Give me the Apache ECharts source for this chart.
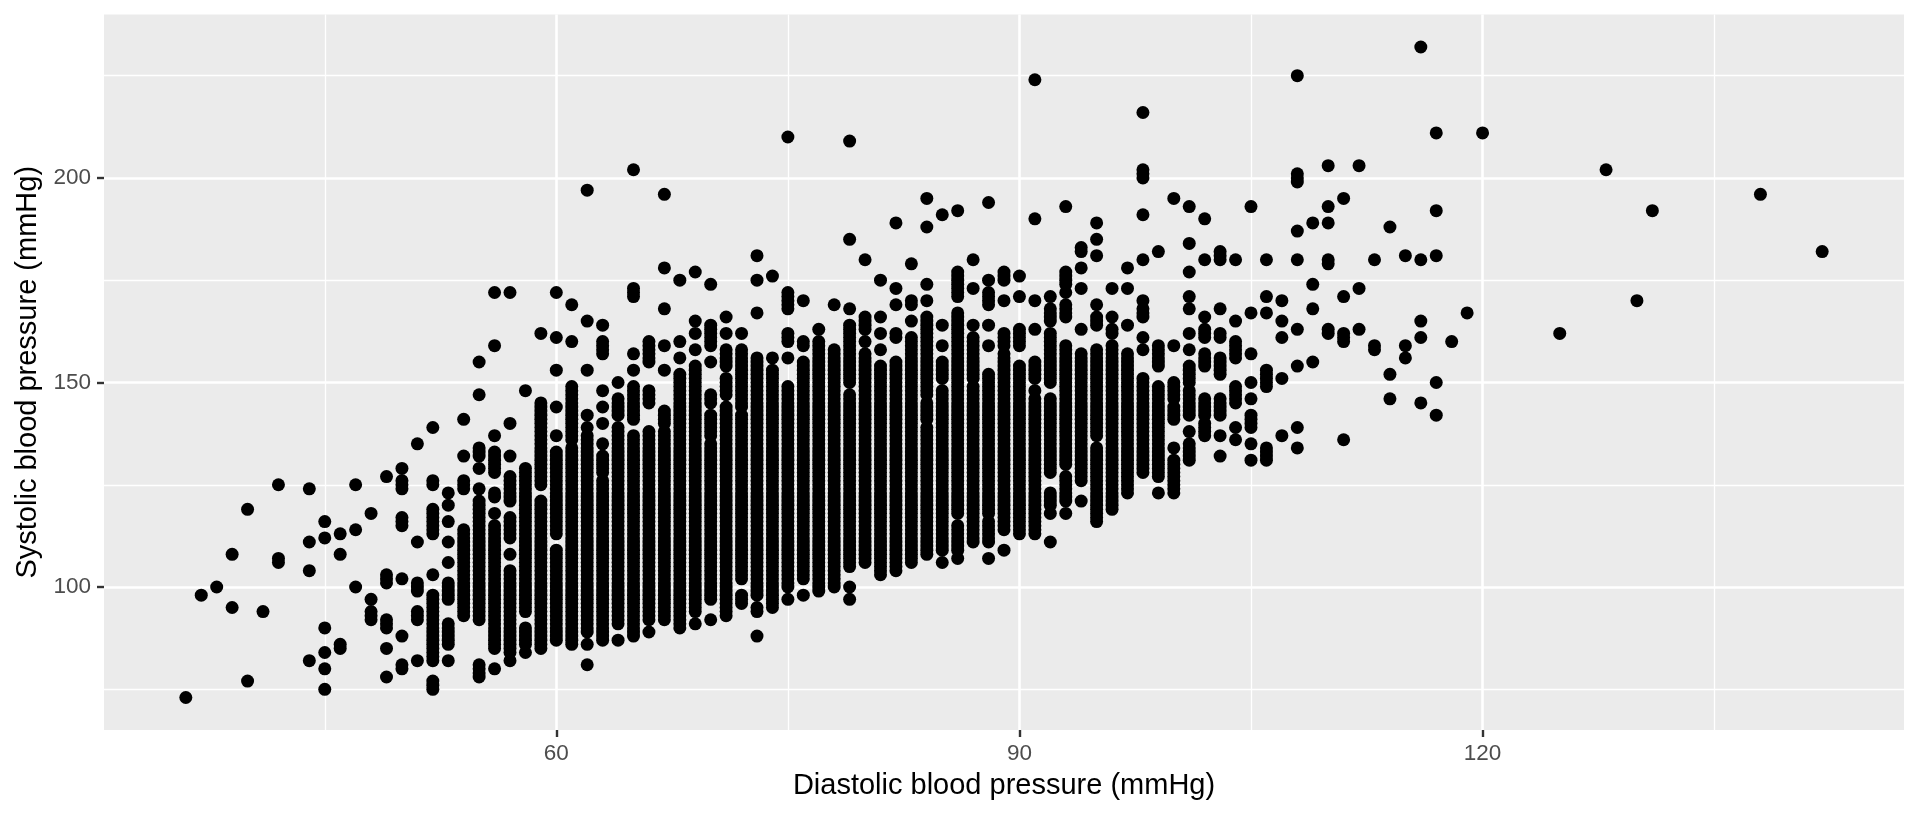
<!DOCTYPE html>
<html>
<head>
<meta charset="utf-8">
<script src="https://cdn.jsdelivr.net/npm/echarts@6/dist/echarts.min.js"></script>
<style>
html,body{margin:0;padding:0;background:#ffffff;}
#chart{width:1920px;height:816px;}
</style>
</head>
<body>
<div id="chart"></div>
<script>
// Diastolic values (x) and, for each, the systolic values (y).
// A number is a single point; [lo, hi] is a solid run of points at every mmHg from lo to hi.
const diastolic = [
  36,37,38,39,40,41,42,44,45,46,47,48,49,50,51,52,53,54,55,56,57,58,59,
  60,61,62,63,64,65,66,67,68,69,70,71,72,73,74,75,76,77,78,79,
  80,81,82,83,84,85,86,87,88,89,90,91,92,93,94,95,96,97,98,99,
  100,101,102,103,104,105,106,107,108,109,110,111,112,113,114,115,116,117,118,119,120,
  125,128,130,131,138,142
];
const systolicRuns = [
  [73],
  [98],
  [100],
  [108, 95],
  [119, 77],
  [94],
  [125, [106,107]],
  [124, 111, 104, 82],
  [116, 112, 90, 84, 80, 75],
  [113, 108, [85,86]],
  [125, 114, 100],
  [118, 97, [92,94]],
  [127, [101,103], [90,92], 85, 78],
  [129, [124,126], [115,117], 102, 88, [80,81]],
  [135, 111, [99,101], [92,94], 82],
  [139, [125,126], [113,119], 103, [82,98], [75,77]],
  [123, 120, 116, 111, 106, [97,101], [86,91], 82],
  [141, 132, [124,126], [93,114]],
  [155, 147, [132,134], 129, 124, [92,121], [78,81]],
  [172, 159, 137, [128,133], [122,123], 118, [85,115], 80],
  [172, 140, 132, [121,127], [112,117], 108, [84,104], 82],
  [148, [94,129], [86,90], 84],
  [162, [125,145], [85,121]],
  // 60
  [172, 161, 153, 144, 137, [113,133], [87,109]],
  [169, 160, [136,149], [130,134], [94,129], [86,93]],
  [197, 165, 153, 142, 139, [128,137], [89,127], 86, 81],
  [164, [157,160], 148, 144, 140, 135, [128,132], [87,126]],
  [150, [142,146], [131,139], [91,130], 87],
  [202, [171,173], 157, 153, [141,149], [88,137]],
  [[155,160], [145,148], [92,138], 89],
  [196, 178, 168, 159, 153, [140,143], [92,138]],
  [175, 160, 156, [90,152]],
  [177, 165, 162, 158, [94,154], 91],
  // 70
  [174, [159,164], 155, [145,147], [137,142], [97,135], 92],
  [166, 162, [154,158], [147,151], [93,144]],
  [162, [144,158], [102,142], [96,98]],
  [181, 175, 167, [98,156], [94,95], 88],
  [176, 156, [95,153]],
  [210, [168,172], [160,162], 156, [100,149], 97],
  [170, [159,160], [102,155], 98],
  [163, [99,160]],
  [169, [100,158]],
  [209, 185, 168, [150,164], [105,147], 100, 97],
  // 80
  [180, [163,166], 160, [106,157]],
  [175, 166, 162, 158, [103,154]],
  [189, 173, 169, [161,162], [104,155]],
  [179, [169,170], 165, [106,161]],
  [195, 188, 174, 170, [147,166], [141,145], [108,139]],
  [191, 164, 159, [151,155], [109,148], 106],
  [192, [171,177], [118,167], [109,115], 107],
  [180, 173, 164, [151,161], [111,149]],
  [194, 175, [169,172], 164, 159, [118,152], [111,116], 107],
  [[175,177], 170, [159,162], [150,157], [114,149], 109],
  // 90
  [176, 171, [159,163], [113,154]],
  [224, 190, 170, 163, [151,155], 148, [113,146]],
  [171, [165,168], [150,162], [128,146], [120,123], 118, 111],
  [193, [174,177], 172, [166,169], [130,159], [121,127], 118],
  [[182,183], 178, 173, 163, [126,157], 121],
  [189, 185, 181, 169, [164,166], [137,158], [116,134]],
  [173, 166, [162,163], [119,159]],
  [178, 173, 164, [123,157]],
  [216, [200,202], 191, 180, 170, [166,168], 161, 158, [128,151]],
  [182, [154,159], [127,149], 123],
  // 100
  [195, 159, [146,150], [141,144], 134, [123,131]],
  [193, 184, 177, 171, 168, 162, 158, [150,154], [142,148], 138, [131,135]],
  [190, 180, 166, [161,163], [154,157], [142,146], [137,140]],
  [[180,182], 168, [161,162], [152,156], [142,146], 137, 132],
  [180, 165, [156,160], [145,149], 139, 136],
  [193, 167, 157, 150, 146, [139,142], 135, 131],
  [180, 171, 167, [149,153], [131,134]],
  [170, 165, 161, 151, 137],
  [225, [199,201], 187, 180, 163, 154, 139, 134],
  [189, 174, 168, 155],
  // 110
  [203, 193, 189, [179,180], [162,163]],
  [195, 171, [160,162], 136],
  [203, 173, 163],
  [180, [158,159]],
  [188, 152, 146],
  [181, 159, 156],
  [232, 180, 165, 161, 145],
  [211, 192, 181, 150, 142],
  [160],
  [167],
  [211],
  // far right
  [162],
  [202],
  [170],
  [192],
  [196],
  [182]
];

// Axis ticks and grid lines
const xTicks = [60, 90, 120];
const xMinor = [45, 75, 105, 135];
const yTicks = [100, 150, 200];
const yMinor = [75, 125, 175, 225];

const xTitle = 'Diastolic blood pressure (mmHg)';
const yTitle = 'Systolic blood pressure (mmHg)';

// Expand the reading into individual points
const points = [];
diastolic.forEach(function (d, i) {
  systolicRuns[i].forEach(function (item) {
    if (Array.isArray(item)) {
      for (let s = item[0]; s <= item[1]; s++) points.push([d, s]);
    } else {
      points.push([d, item]);
    }
  });
});

const FONT = '"Liberation Sans", Arial, Helvetica, sans-serif';
const gridLines = [];
xMinor.forEach(v => gridLines.push({xAxis: v, lineStyle: {color: '#ffffff', width: 1.3, type: 'solid'}}));
yMinor.forEach(v => gridLines.push({yAxis: v, lineStyle: {color: '#ffffff', width: 1.3, type: 'solid'}}));
xTicks.forEach(v => gridLines.push({xAxis: v, lineStyle: {color: '#ffffff', width: 2.6, type: 'solid'}}));
yTicks.forEach(v => gridLines.push({yAxis: v, lineStyle: {color: '#ffffff', width: 2.6, type: 'solid'}}));

const chart = echarts.init(document.getElementById('chart'), null, {renderer: 'canvas'});
chart.setOption({
  animation: false,
  backgroundColor: '#ffffff',
  grid: {
    left: 104, right: 16, top: 14.5, bottom: 86,
    show: true, backgroundColor: '#EBEBEB', borderWidth: 0
  },
  xAxis: {
    type: 'value',
    min: 30.7, max: 147.3,
    axisLine: {show: false},
    splitLine: {show: false},
    axisTick: {show: true, customValues: xTicks, length: 7, lineStyle: {color: '#333333', width: 2.4}},
    axisLabel: {customValues: xTicks, color: '#4D4D4D', fontSize: 22.5, fontFamily: FONT, margin: 12},
    name: xTitle,
    nameLocation: 'middle',
    nameGap: 41,
    nameTextStyle: {color: '#000000', fontSize: 29, fontFamily: FONT}
  },
  yAxis: {
    type: 'value',
    min: 65.05, max: 239.95,
    axisLine: {show: false},
    splitLine: {show: false},
    axisTick: {show: true, customValues: yTicks, length: 7, lineStyle: {color: '#333333', width: 2.4}},
    axisLabel: {customValues: yTicks, color: '#4D4D4D', fontSize: 22.5, fontFamily: FONT, margin: 13},
    name: yTitle,
    nameLocation: 'middle',
    nameRotate: 90,
    nameGap: 61,
    nameTextStyle: {color: '#000000', fontSize: 29, fontFamily: FONT}
  },
  series: [
    {
      type: 'scatter',
      data: [],
      z: 1,
      silent: true,
      markLine: {
        silent: true, z: 1,
        symbol: ['none', 'none'],
        label: {show: false},
        emphasis: {disabled: true},
        animation: false,
        data: gridLines
      }
    },
    {
      type: 'scatter',
      z: 3,
      data: points,
      symbol: 'circle',
      symbolSize: 13,
      itemStyle: {color: '#000000', opacity: 1},
      emphasis: {disabled: true},
      large: false
    }
  ]
});
</script>
</body>
</html>
